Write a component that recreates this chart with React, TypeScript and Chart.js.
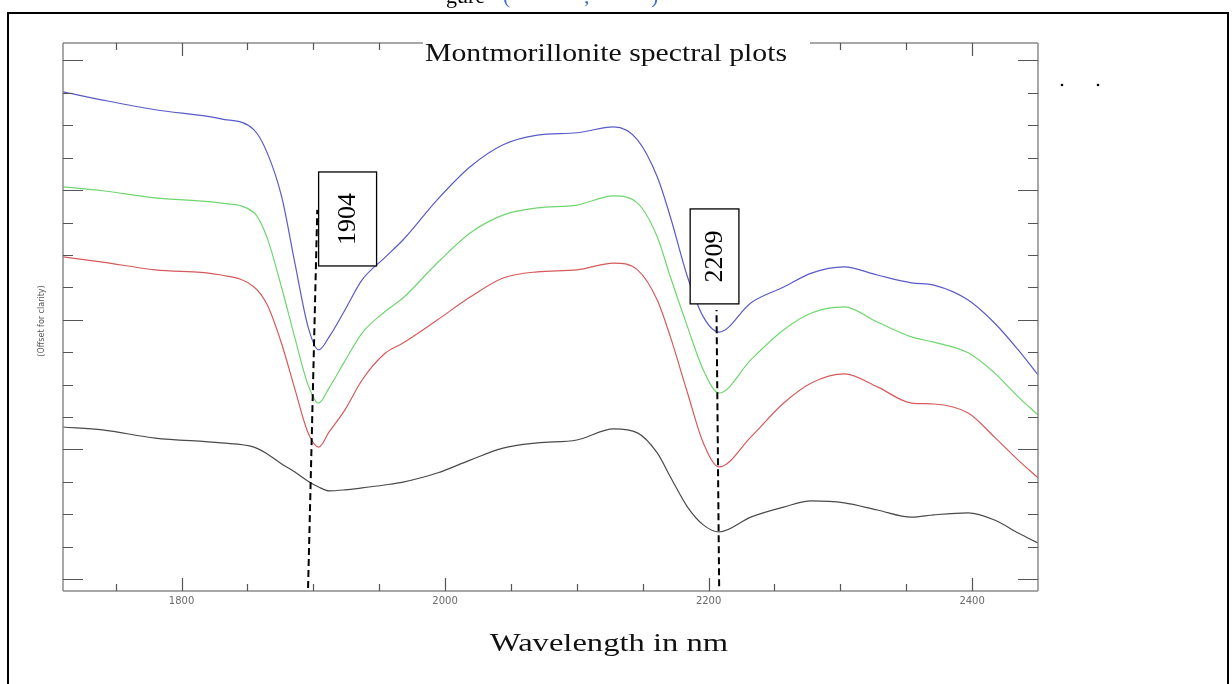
import React, { useEffect, useRef } from "react";
import { Chart, registerables } from "chart.js";

Chart.register(...registerables);

// ---------- data ----------
const wavelengthsNm = [
  1710, 1740, 1780, 1830, 1855, 1865, 1876, 1886, 1896, 1904, 1912, 1924, 1937,
  1954, 1968, 1994, 2019, 2044, 2070, 2100, 2128, 2146, 2161, 2171, 2184, 2196,
  2208, 2232, 2257, 2278, 2303, 2328, 2354, 2371, 2397, 2417, 2435, 2450,
];

const blueSeries = [
  15.03, 14.78, 14.48, 14.2, 13.86, 13.15, 11.79, 9.75, 7.78, 7.07, 7.47, 8.3,
  9.23, 9.91, 10.46, 11.7, 12.72, 13.4, 13.7, 13.77, 13.95, 13.55, 12.41, 11.17,
  9.32, 8.09, 7.62, 8.52, 9.01, 9.44, 9.63, 9.38, 9.14, 9.07, 8.61, 7.9, 7.07, 6.3,
];

const greenSeries = [
  12.1, 11.98, 11.76, 11.6, 11.3, 10.52, 8.98, 7.44, 5.99, 5.43, 5.9, 6.73, 7.59,
  8.24, 8.67, 9.75, 10.68, 11.23, 11.45, 11.54, 11.82, 11.6, 10.56, 9.32, 7.78,
  6.45, 5.74, 6.76, 7.69, 8.21, 8.4, 7.93, 7.47, 7.31, 6.98, 6.36, 5.62, 5.06,
];

const redSeries = [
  9.94, 9.78, 9.54, 9.38, 9.01, 8.46, 7.25, 5.86, 4.51, 4.07, 4.54, 5.22, 6.14,
  6.95, 7.28, 7.99, 8.7, 9.29, 9.48, 9.54, 9.75, 9.54, 8.61, 7.47, 5.74, 4.2,
  3.46, 4.38, 5.43, 6.05, 6.33, 5.93, 5.43, 5.4, 5.12, 4.38, 3.67, 3.12,
];

const blackSeries = [
  4.69, 4.6, 4.35, 4.2, 4.07, 3.86, 3.55, 3.3, 3.02, 2.84, 2.72, 2.75, 2.81,
  2.9, 2.99, 3.27, 3.67, 4.04, 4.2, 4.29, 4.63, 4.51, 3.89, 3.15, 2.22, 1.67,
  1.45, 1.91, 2.22, 2.41, 2.35, 2.13, 1.91, 1.98, 2.04, 1.82, 1.42, 1.11,
];

const xTickValues = [
  1750, 1800, 1850, 1900, 1950, 2000, 2050, 2100, 2150, 2200, 2250, 2300, 2350, 2400,
];
const xLabelValues = [1800, 2000, 2200, 2400];
const yTickValues = [0, 1, 2, 3, 4, 5, 6, 7, 8, 9, 10, 11, 12, 13, 14, 15, 16];

const titleText = "Montmorillonite spectral plots";
const xTitleText = "Wavelength in nm";
const yTitleText = "(Offset for clarity)";

// absorption-feature annotations (data units)
const markerLabels = ["1904", "2209"];
const guideBottomNm = [1896, 2208];
const guideTopNm = [1903, 2206];
const guideBottomVal = [-0.28, -0.22];
const guideTopVal = [11.39, 8.3];
const boxLeftNm = [1904, 2186];
const boxRightNm = [1948, 2223];
const boxTopVal = [12.56, 11.42];
const boxBottomVal = [9.66, 8.49];

const serif = "'Liberation Serif', 'DejaVu Serif', serif";
const sans = "'DejaVu Sans', 'Liberation Sans', sans-serif";

function fitText(
  ctx: CanvasRenderingContext2D,
  text: string,
  cx: number,
  baseline: number,
  width: number,
  font: string,
  color: string
) {
  ctx.save();
  ctx.font = font;
  const w = ctx.measureText(text).width;
  ctx.translate(cx, baseline);
  ctx.scale(width / w, 1);
  ctx.fillStyle = color;
  ctx.textAlign = "center";
  ctx.textBaseline = "alphabetic";
  ctx.fillText(text, 0, 0);
  ctx.restore();
}

const overlayPlugin = {
  id: "overlay",
  afterDatasetsDraw(chart: any) {
    const ctx: CanvasRenderingContext2D = chart.ctx;
    const xs = chart.scales.x;
    const ys = chart.scales.y;
    const { left, right, top, bottom } = chart.chartArea;

    // annotation boxes
    for (let i = 0; i < markerLabels.length; i++) {
      const x1 = xs.getPixelForValue(boxLeftNm[i]);
      const x2 = xs.getPixelForValue(boxRightNm[i]);
      const y1 = ys.getPixelForValue(boxTopVal[i]);
      const y2 = ys.getPixelForValue(boxBottomVal[i]);
      ctx.save();
      ctx.fillStyle = "#ffffff";
      ctx.fillRect(x1, y1, x2 - x1, y2 - y1);
      ctx.strokeStyle = "#000";
      ctx.lineWidth = 1.3;
      ctx.strokeRect(x1, y1, x2 - x1, y2 - y1);
      ctx.translate((x1 + x2) / 2, (y1 + y2) / 2);
      ctx.rotate(-Math.PI / 2);
      ctx.font = `26px ${serif}`;
      ctx.fillStyle = "#000";
      ctx.textAlign = "center";
      ctx.textBaseline = "middle";
      ctx.fillText(markerLabels[i], 0, 1);
      ctx.restore();
    }

    // dashed guide lines
    ctx.save();
    ctx.strokeStyle = "#000";
    ctx.lineWidth = 2;
    ctx.setLineDash([7, 4]);
    for (let i = 0; i < markerLabels.length; i++) {
      ctx.beginPath();
      ctx.moveTo(xs.getPixelForValue(guideBottomNm[i]), ys.getPixelForValue(guideBottomVal[i]));
      ctx.lineTo(xs.getPixelForValue(guideTopNm[i]), ys.getPixelForValue(guideTopVal[i]));
      ctx.stroke();
    }
    ctx.restore();

    // title gap on top axis
    const gapL = 423;
    const gapR = 810;

    // axis frame
    ctx.save();
    ctx.strokeStyle = "#8a8a8a";
    ctx.lineWidth = 1.5;
    ctx.beginPath();
    ctx.moveTo(left, bottom);
    ctx.lineTo(right, bottom);
    ctx.moveTo(left, top);
    ctx.lineTo(left, bottom);
    ctx.moveTo(right, top);
    ctx.lineTo(right, bottom);
    ctx.moveTo(left, top);
    ctx.lineTo(gapL, top);
    ctx.moveTo(gapR, top);
    ctx.lineTo(right, top);
    ctx.stroke();

    // x ticks (bottom up, top down)
    ctx.strokeStyle = "#555";
    ctx.lineWidth = 1.2;
    ctx.beginPath();
    for (const v of xTickValues) {
      const px = Math.round(xs.getPixelForValue(v)) + 0.5;
      const len = xLabelValues.includes(v) ? 13 : 7;
      ctx.moveTo(px, bottom);
      ctx.lineTo(px, bottom - len);
      if (px < gapL || px > gapR) {
        ctx.moveTo(px, top);
        ctx.lineTo(px, top + len);
      }
    }
    // y ticks (left pointing right, right pointing left)
    for (const v of yTickValues) {
      const py = Math.round(ys.getPixelForValue(v)) + 0.5;
      const len = v % 4 === 0 ? 20 : 10;
      ctx.moveTo(left, py);
      ctx.lineTo(left + len, py);
      ctx.moveTo(right, py);
      ctx.lineTo(right - len, py);
    }
    ctx.stroke();
    ctx.restore();

    // x tick labels
    ctx.save();
    ctx.font = `10px ${sans}`;
    ctx.fillStyle = "#6a6a6a";
    ctx.textAlign = "center";
    ctx.textBaseline = "middle";
    for (const v of xLabelValues) {
      ctx.fillText(String(v), xs.getPixelForValue(v), bottom + 10);
    }
    ctx.restore();

    // titles
    fitText(ctx, titleText, 606, 61, 362, `26px ${serif}`, "#111");
    fitText(ctx, xTitleText, 609, 651, 238, `26px ${serif}`, "#111");

    ctx.save();
    ctx.translate(42, 321);
    ctx.rotate(-Math.PI / 2);
    ctx.font = `8px ${sans}`;
    ctx.fillStyle = "#555";
    ctx.textAlign = "center";
    ctx.textBaseline = "middle";
    ctx.fillText(yTitleText, 0, 0);
    ctx.restore();

    // stray dots at right
    ctx.save();
    ctx.fillStyle = "#000";
    for (const dx of [1062, 1098]) {
      ctx.beginPath();
      ctx.arc(dx, 85, 1.3, 0, Math.PI * 2);
      ctx.fill();
    }
    ctx.restore();

    // outer document frame
    ctx.save();
    ctx.strokeStyle = "#000";
    ctx.lineWidth = 2;
    ctx.strokeRect(8, 13, 1220, 720);
    ctx.restore();

    // cut-off caption above the frame
    ctx.save();
    ctx.beginPath();
    ctx.rect(0, 0, 1232, 9);
    ctx.clip();
    ctx.font = `22px ${serif}`;
    ctx.textBaseline = "alphabetic";
    ctx.textAlign = "left";
    ctx.fillStyle = "#000";
    ctx.fillText("gure", 446, 3);
    ctx.fillStyle = "#4472c4";
    ctx.fillText("(", 503, 3);
    ctx.fillText(",", 584, 3);
    ctx.fillText(")", 651, 3);
    ctx.restore();
  },
};

export default function App() {
  const ref = useRef<HTMLCanvasElement>(null);

  useEffect(() => {
    const canvas = ref.current!;
    const mk = (values: number[]) => wavelengthsNm.map((x, i) => ({ x, y: values[i] }));
    const lineDs = (label: string, values: number[], color: string) => ({
      label,
      data: mk(values),
      borderColor: color,
      borderWidth: 1.2,
      pointRadius: 0,
      fill: false,
      cubicInterpolationMode: "monotone" as const,
    });
    const chart = new Chart(canvas, {
      type: "line",
      data: {
        datasets: [
          lineDs("Sample 1", blueSeries, "#5a5ac8"),
          lineDs("Sample 2", greenSeries, "#6fd66f"),
          lineDs("Sample 3", redSeries, "#d65a5a"),
          lineDs("Sample 4", blackSeries, "#4a4a4a"),
        ],
      },
      options: {
        animation: false,
        responsive: false,
        devicePixelRatio: 1,
        layout: { padding: { left: 63, top: 43, right: 194, bottom: 93 } },
        plugins: {
          legend: { display: false },
          tooltip: { enabled: false },
          title: { display: false },
        },
        scales: {
          x: { type: "linear", min: 1710, max: 2450, display: false },
          y: { type: "linear", min: -0.37, max: 16.54, display: false },
        },
      },
      plugins: [overlayPlugin],
    });
    return () => chart.destroy();
  }, []);

  return (
    <div
      style={{
        position: "absolute",
        left: 0,
        top: 0,
        width: 1232,
        height: 684,
        background: "#fff",
        overflow: "hidden",
      }}
    >
      <canvas ref={ref} width={1232} height={684} style={{ display: "block", width: 1232, height: 684 }} />
    </div>
  );
}
